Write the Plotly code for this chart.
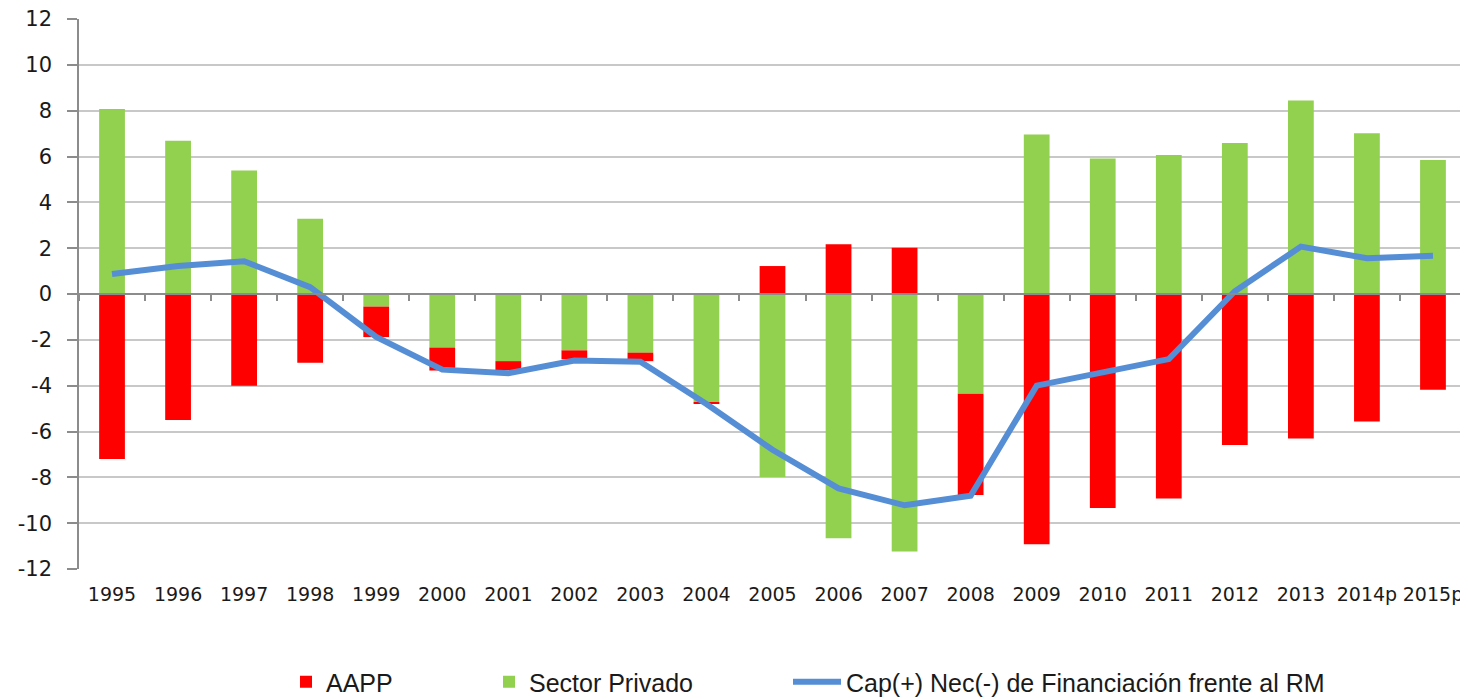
import plotly.graph_objects as go

years = ["1995", "1996", "1997", "1998", "1999", "2000", "2001", "2002", "2003", "2004",
         "2005", "2006", "2007", "2008", "2009", "2010", "2011", "2012", "2013", "2014p", "2015p"]
aapp = [-7.2, -5.5, -4.0, -3.0, -1.33, -1.0, -0.4, -0.39, -0.37, -0.05,
        1.22, 2.17, 2.02, -4.42, -10.92, -9.34, -8.92, -6.59, -6.30, -5.56, -4.18]
privado = [8.07, 6.69, 5.39, 3.28, -0.55, -2.34, -2.93, -2.46, -2.56, -4.72,
           -7.99, -10.66, -11.24, -4.35, 6.96, 5.91, 6.07, 6.59, 8.44, 7.02, 5.85]
capnec = [0.87, 1.22, 1.43, 0.3, -1.87, -3.3, -3.46, -2.9, -2.96, -4.8,
          -6.8, -8.48, -9.22, -8.8, -4.0, -3.42, -2.84, 0.12, 2.07, 1.56, 1.67]
yticks = [-12, -10, -8, -6, -4, -2, 0, 2, 4, 6, 8, 10, 12]

RED = "#FF0000"
GREEN = "#92D050"
BLUE = "#558ED5"
GRID = "#c8c8c8"
AXIS = "#8c8c8c"
TXT = "#1a1a1a"
LEG_FONT = dict(family="Liberation Sans, Arial, sans-serif", size=25, color=TXT)

fig = go.Figure()
fig.add_trace(go.Bar(x=years, y=privado, name="Sector Privado", marker=dict(color=GREEN, line=dict(width=0)),
                     legend="legend2", showlegend=True))
fig.add_trace(go.Bar(x=years, y=aapp, name="AAPP", marker=dict(color=RED, line=dict(width=0)),
                     legend="legend", showlegend=True))
fig.add_trace(go.Scatter(x=years, y=capnec, name="Cap(+) Nec(-) de Financiación frente al RM",
                         mode="lines", line=dict(color=BLUE, width=6), xaxis="x2", legend="legend3",
                         showlegend=True))

# page has an 8px body margin; size the figure so it fits the 1468x699 window
OFF = 8
W, H = 1468 - OFF, 699 - OFF
L, R, T, B = 79 - OFF, 2, 19 - OFF, 130
pw, ph = W - L - R, H - T - B


def px_x(p):
    return (p - OFF - L) / pw


def px_y(p):
    return (H - B - (p - OFF)) / ph


leg_common = dict(orientation="h", font=LEG_FONT, bgcolor="rgba(0,0,0,0)", borderwidth=0,
                  xanchor="left", yanchor="middle", y=px_y(682), visible=True)

fig.update_layout(
    width=W, height=H,
    margin=dict(l=L, r=R, t=T, b=B, autoexpand=False),
    paper_bgcolor="white", plot_bgcolor="white",
    showlegend=True,
    barmode="relative", bargap=0.61,
    legend=dict(x=px_x(286), **leg_common),
    legend2=dict(x=px_x(489), **leg_common),
    legend3=dict(x=px_x(788), itemwidth=48, **leg_common),
    xaxis=dict(type="category", anchor="free", position=0.5,
               range=[-0.5, len(years) - 0.5],
               showline=True, linecolor=AXIS, linewidth=1.5,
               ticks="outside", tickson="boundaries", ticklen=6, tickcolor=AXIS, tickwidth=1.5,
               showticklabels=False, showgrid=False, zeroline=False),
    xaxis2=dict(type="category", overlaying="x", anchor="y", side="bottom",
                range=[-0.5, len(years) - 0.5],
                showline=False, ticks="", showgrid=False, zeroline=False,
                ticklabelstandoff=12, ticklabeloverflow="allow",
                tickfont=dict(family="DejaVu Sans, Verdana, sans-serif", size=19, color=TXT)),
    yaxis=dict(range=[-12, 12], tickvals=yticks, ticktext=[str(v) for v in yticks],
               showgrid=True, gridcolor=GRID, gridwidth=1.5,
               showline=True, linecolor=AXIS, linewidth=1.5,
               ticks="outside", ticklen=10, tickcolor=AXIS, tickwidth=1.5,
               zeroline=False, ticklabelstandoff=11, ticklabeloverflow="allow",
               tickfont=dict(family="DejaVu Sans, Verdana, sans-serif", size=21, color=TXT)),
)

fig.write_html("out.html")
